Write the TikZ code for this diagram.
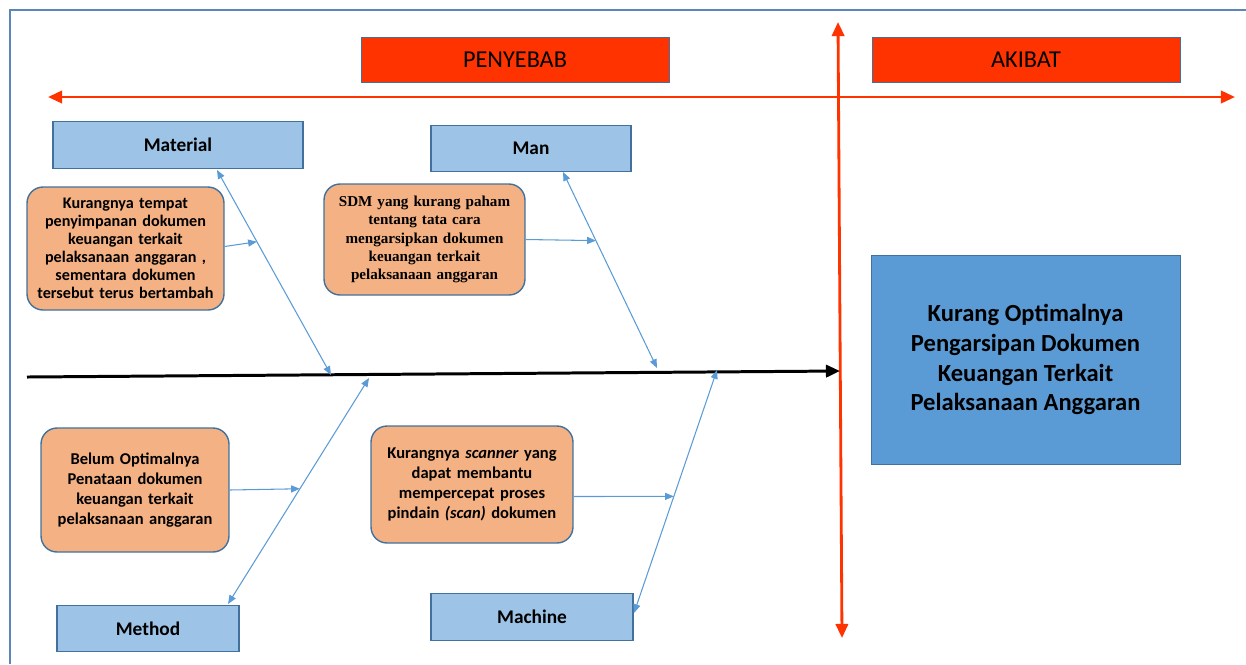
\documentclass[tikz,border=0pt]{standalone}
\usepackage{fontspec}
\setmainfont{Carlito}
\newfontfamily\timesfont{Liberation Serif}
\usetikzlibrary{arrows.meta,calc}

\definecolor{redbar}{HTML}{FF3300}
\definecolor{labelblue}{HTML}{9DC3E6}
\definecolor{edgeblue}{HTML}{41719C}
\definecolor{effectblue}{HTML}{5B9BD5}
\definecolor{causeorange}{HTML}{F4B183}
\definecolor{boneblue}{HTML}{5B9BD5}
\definecolor{framecol}{HTML}{5A86BA}

\begin{document}
\begin{tikzpicture}[x=0.02cm, y=-0.02cm]

	\tikzset{
	headbox/.style={draw=edgeblue, fill=redbar, minimum width=6.16cm, minimum height=0.9cm, font=\fontsize{13.8}{16}\selectfont},
	catbox/.style={draw=edgeblue, line width=0.8pt, fill=labelblue, minimum height=0.93cm, font=\bfseries\fontsize{11}{13}\selectfont},
	causebox/.style={draw=edgeblue, line width=0.8pt, fill=causeorange, rounded corners=0.32cm, align=center, inner sep=0pt, font=\bfseries\fontsize{9.4}{11.3}\selectfont},
	bone/.style={draw=boneblue, line width=0.6pt, {Triangle[length=5pt,width=4pt]}-{Triangle[length=5pt,width=4pt]}},
	twig/.style={draw=boneblue, line width=0.6pt, -{Triangle[length=5pt,width=4pt]}},
	redaxis/.style={draw=redbar, line width=1.6pt, {Triangle[length=8pt,width=7pt]}-{Triangle[length=8pt,width=7pt]}}
	}

	\useasboundingbox (0,0) rectangle (1246,664);

	% Frame
	\draw[framecol, line width=0.8pt] (10,664) -- (10,10) -- (1246,10);

	% Nodes
	\node[headbox] (cause) at (515,59.5) {PENYEBAB};
	\node[headbox] (effect) at (1026,59.5) {AKIBAT};

	\node[catbox, minimum width=5.0cm] (material) at (178,145) {Material};
	\node[catbox, minimum width=4.0cm] (man) at (531,148.5) {Man};
	\node[catbox, minimum width=3.64cm] (method) at (148,628.5) {Method};
	\node[catbox, minimum width=4.04cm] (machine) at (532,617) {Machine};

	\node[causebox, minimum width=3.94cm, minimum height=2.46cm, text width=3.8cm, font=\bfseries\fontsize{9.2}{10.3}\selectfont] (c1) at (125.5,248.5)
		{Kurangnya tempat\\penyimpanan dokumen\\keuangan terkait\\pelaksanaan anggaran ,\\sementara dokumen\\tersebut terus bertambah};
	\node[causebox, minimum width=4.02cm, minimum height=2.22cm, text width=3.9cm, font=\timesfont\bfseries\fontsize{8.6}{10.5}\selectfont] (c2) at (424.5,239.5)
		{SDM yang kurang paham\\tentang tata cara\\mengarsipkan dokumen\\keuangan terkait\\pelaksanaan anggaran};
	\node[causebox, minimum width=3.76cm, minimum height=2.48cm, text width=3.6cm] (c3) at (135,490)
		{Belum Optimalnya\\Penataan dokumen\\keuangan terkait\\pelaksanaan anggaran};
	\node[causebox, minimum width=4.04cm, minimum height=2.34cm, text width=3.9cm] (c4) at (472,484.5)
		{Kurangnya \textit{scanner} yang\\dapat membantu\\mempercepat proses\\pindain \textit{(scan)} dokumen};

	\node[draw=edgeblue, fill=effectblue, minimum width=6.18cm, minimum height=4.18cm, align=center, font=\bfseries\fontsize{14}{17}\selectfont] (problem) at (1025.5,359.5)
		{Kurang Optimalnya\\Pengarsipan Dokumen\\Keuangan Terkait\\Pelaksanaan Anggaran};

	% Axes and spine
	\coordinate (axL) at (48,97);
	\coordinate (axR) at (1235,97);
	\coordinate (axT) at (838,22);
	\coordinate (axB) at (842,638);
	\coordinate (spL) at (27,377);
	\coordinate (spR) at (840,371);

	\draw[redaxis] (axL) -- (axR);
	\draw[redaxis] (axT) -- (axB);
	\draw[line width=1.7pt, -{Triangle[length=8pt,width=7pt]}] (spL) -- (spR);

	% Bones
	\coordinate (b1a) at (217,170);
	\coordinate (b1b) at (331,375);
	\coordinate (b2a) at (563,172);
	\coordinate (b2b) at (657,368);
	\coordinate (b3a) at (228,604);
	\coordinate (b3b) at (369,378);
	\coordinate (b4a) at (634,613);
	\coordinate (b4b) at (717,370);

	\draw[bone] (b1a) -- (b1b);
	\draw[bone] (b2a) -- (b2b);
	\draw[bone] (b3a) -- (b3b);
	\draw[bone] (b4a) -- (b4b);

	% Lines
	\draw[twig] (c1.east) ++(0,-2) -- ($(b1a)!0.35!(b1b)$);
	\draw[twig] (c2.east) -- ($(b2a)!0.35!(b2b)$);
	\draw[twig] (c3.east) -- ($(b3a)!0.51!(b3b)$);
	\draw[twig] (c4.east) ++(0,12) -- ($(b4a)!0.48!(b4b)$);

\end{tikzpicture}
\end{document}
